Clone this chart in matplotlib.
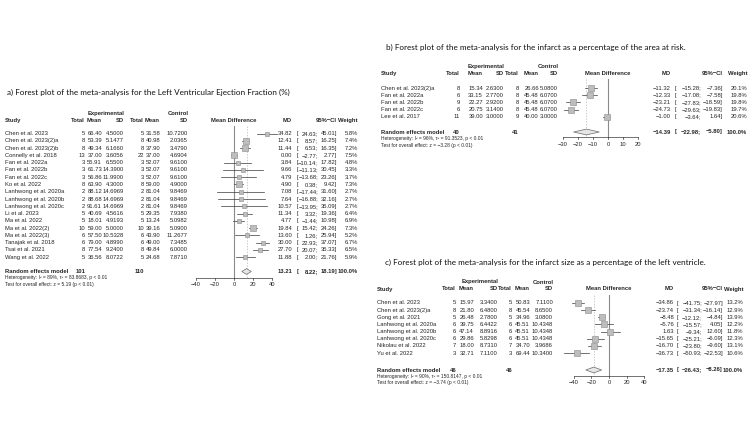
import matplotlib
matplotlib.use('Agg')
import matplotlib.pyplot as plt
from matplotlib.patches import Polygon

plt.rcParams['font.family'] = ['Liberation Sans', 'DejaVu Sans']

# ---------------- data: panel a (LVEF) ----------------
a_title = "a) Forest plot of the meta-analysis for the Left Ventricular Ejection Fraction (%)"
a_studies = ["Chen et al. 2023", "Chen et al. 2023(2)a", "Chen et al. 2023(2)b", "Connelly et al. 2018",
             "Fan et al. 2022a", "Fan et al. 2022b", "Fan et al. 2022c", "Ko et al. 2022",
             "Lanhwong et al. 2020a", "Lanhwong et al. 2020b", "Lanhwong et al. 2020c", "Li et al. 2023",
             "Ma et al. 2022", "Ma et al. 2022(2)", "Ma et al. 2022(3)", "Tanajak et al. 2018",
             "Tsai et al. 2021", "Wang et al. 2022"]
a_exp_n = [5, 8, 8, 13, 3, 3, 3, 8, 2, 2, 2, 5, 5, 10, 6, 6, 8, 5]
a_exp_mean = [66.40, 53.39, 49.34, 37.00, 55.91, 61.73, 56.86, 63.90, 88.12, 88.68, 91.61, 40.69,
              18.01, 59.00, 57.50, 79.00, 77.54, 36.56]
a_exp_sd = [4.5000, 5.1477, 6.1660, 3.6056, 6.5500, 14.3900, 11.9900, 4.3000, 14.6969, 14.6969, 14.6969,
            4.5616, 4.9193, 5.0000, 10.5328, 4.8990, 9.2400, 8.0722]
a_ctl_n = [5, 8, 8, 22, 3, 3, 3, 8, 2, 2, 2, 5, 5, 10, 6, 6, 8, 5]
a_ctl_mean = [31.58, 40.98, 37.90, 37.00, 52.07, 52.07, 52.07, 59.00, 81.04, 81.04, 81.04, 29.35,
              13.24, 39.16, 43.90, 49.00, 49.84, 24.68]
a_ctl_sd = [10.7200, 2.0365, 3.4790, 4.6904, 9.6100, 9.6100, 9.6100, 4.9000, 9.8469, 9.8469, 9.8469,
            7.9380, 5.0982, 5.0900, 11.2677, 7.3485, 6.0000, 7.8710]
a_md = [34.82, 12.41, 11.44, 0.00, 3.84, 9.66, 4.79, 4.90, 7.08, 7.64, 10.57, 11.34, 4.77, 19.84,
        13.60, 30.00, 27.70, 11.88]
a_lo = [24.63, 8.57, 6.53, -2.77, -10.14, -11.13, -13.68, 0.38, -17.44, -16.88, -13.95, 3.32, -1.44,
        15.42, 1.26, 22.93, 20.07, 2.00]
a_hi = [45.01, 16.25, 16.35, 2.77, 17.82, 30.45, 23.26, 9.42, 31.60, 32.16, 35.09, 19.36, 10.98,
        24.26, 25.94, 37.07, 35.33, 21.76]
a_w = [5.8, 7.4, 7.2, 7.5, 4.8, 3.3, 3.7, 7.3, 2.7, 2.7, 2.7, 6.4, 6.9, 7.3, 5.2, 6.7, 6.5, 5.9]
a_tot = [101, 110]
a_pool = [13.21, 8.22, 18.19]
a_het = "Heterogeneity: I² = 89%, τ² = 83.8683, p < 0.01"
a_test = "Test for overall effect: z = 5.19 (p < 0.01)"
a_ticks = [-40, -20, 0, 20, 40]

# ---------------- data: panel b (infarct / area at risk) ----------------
b_title = "b) Forest plot of the meta-analysis for the infarct as a percentage of the area at risk."
b_studies = ["Chen et al. 2023(2)a", "Fan et al. 2022a", "Fan et al. 2022b", "Fan et al. 2022c", "Lee et al. 2017"]
b_exp_n = [8, 6, 9, 6, 11]
b_exp_mean = [15.34, 33.15, 22.27, 20.75, 39.00]
b_exp_sd = [2.6300, 2.7700, 2.9200, 3.1400, 3.0000]
b_ctl_n = [8, 8, 8, 8, 9]
b_ctl_mean = [26.66, 45.48, 45.48, 45.48, 40.00]
b_ctl_sd = [5.0800, 6.0700, 6.0700, 6.0700, 3.0000]
b_md = [-11.32, -12.33, -23.21, -24.73, -1.00]
b_lo = [-15.28, -17.08, -27.83, -29.63, -3.64]
b_hi = [-7.36, -7.58, -18.59, -19.83, 1.64]
b_w = [20.1, 19.8, 19.8, 19.7, 20.6]
b_tot = [40, 41]
b_pool = [-14.39, -22.98, -5.80]
b_het = "Heterogeneity: I² = 96%, τ² = 91.3523, p < 0.01"
b_test = "Test for overall effect: z = −3.28 (p < 0.01)"
b_ticks = [-30, -20, -10, 0, 10, 20]

# ---------------- data: panel c (infarct size / LV) ----------------
c_title = "c) Forest plot of the meta-analysis for the infarct size as a percentage of the left ventricle."
c_studies = ["Chen et al. 2023", "Chen et al. 2023(2)a", "Gong et al. 2021", "Lanhwong et al. 2020a",
             "Lanhwong et al. 2020b", "Lanhwong et al. 2020c", "Nikolau et al. 2022", "Yu et al. 2022"]
c_exp_n = [5, 8, 5, 6, 6, 6, 7, 3]
c_exp_mean = [15.97, 21.80, 26.48, 39.75, 47.14, 29.86, 18.00, 32.71]
c_exp_sd = [3.3400, 6.4800, 2.7800, 6.4422, 8.8916, 5.8298, 8.7310, 7.1100]
c_ctl_n = [5, 8, 5, 6, 6, 6, 7, 3]
c_ctl_mean = [50.83, 45.54, 34.96, 45.51, 45.51, 45.51, 34.70, 69.44]
c_ctl_sd = [7.1100, 8.6500, 3.0800, 10.4348, 10.4348, 10.4348, 3.9686, 10.3400]
c_md = [-34.86, -23.74, -8.48, -5.76, 1.63, -15.65, -16.70, -36.73]
c_lo = [-41.75, -31.34, -12.12, -15.57, -9.34, -25.21, -23.80, -50.93]
c_hi = [-27.97, -16.14, -4.84, 4.05, 12.60, -6.09, -9.60, -22.53]
c_w = [13.2, 12.9, 13.9, 12.2, 11.8, 12.3, 13.1, 10.6]
c_tot = [46, 46]
c_pool = [-17.35, -26.43, -8.26]
c_het = "Heterogeneity: I² = 90%, τ² = 150.8147, p < 0.01"
c_test = "Test for overall effect: z = −3.74 (p < 0.01)"
c_ticks = [-40, -20, 0, 20, 40]

# ---------------- figure ----------------
W, H = 750, 443
fig = plt.figure(figsize=(7.5, 4.43), dpi=100)
fig.patch.set_facecolor('white')
base = fig.add_axes([0, 0, 1, 1])
base.set_xlim(0, W)
base.set_ylim(H, 0)
base.axis('off')

TXT = '#262626'
FS = 4.2
FS_SMALL = 3.5
TITLE_FS = 5.85


def fmt(v, d):
    s = f"{v:.{d}f}"
    return s.replace('-', '−')


def txt(x, y, s, ha='left', bold=False, fs=FS, **kw):
    base.text(x, y, s, ha=ha, va='center', fontsize=fs, color=TXT,
              fontweight='bold' if bold else 'normal', **kw)


def panel(title, title_xy, L, studies, en, em, esd, cn, cm, csd, md, lo, hi, w, tot, pool, het, test, ticks):
    base.text(title_xy[0], title_xy[1], title, ha='left', va='center', fontsize=TITLE_FS,
              color='#111111', family=['Lato', 'DejaVu Sans'])
    y1, y2 = L['hy1'], L['hy2']
    txt(L['esd'] + 1, y1, "Experimental", ha='right', bold=True)
    txt(L['csd'] + 1, y1, "Control", ha='right', bold=True)
    txt(L['study'], y2, "Study", bold=True)
    txt(L['en'], y2, "Total", ha='right', bold=True)
    txt(L['em'], y2, "Mean", ha='right', bold=True)
    txt(L['esd'], y2, "SD", ha='right', bold=True)
    txt(L['cn'], y2, "Total", ha='right', bold=True)
    txt(L['cm'], y2, "Mean", ha='right', bold=True)
    txt(L['csd'], y2, "SD", ha='right', bold=True)
    txt(L['zero_px'], y2, "Mean Difference", ha='center', bold=True)
    txt(L['md'], y2, "MD", ha='right', bold=True)
    txt(L['ci_r'], y2, "95%−CI", ha='right', bold=True)
    txt(L['wt'], y2, "Weight", ha='right', bold=True)

    n = len(studies)
    ys = [L['row0'] + i * L['dy'] for i in range(n)]
    for i in range(n):
        y = ys[i]
        txt(L['study'], y, studies[i])
        txt(L['en'], y, str(en[i]), ha='right')
        txt(L['em'], y, fmt(em[i], 2), ha='right')
        txt(L['esd'], y, fmt(esd[i], 4), ha='right')
        txt(L['cn'], y, str(cn[i]), ha='right')
        txt(L['cm'], y, fmt(cm[i], 2), ha='right')
        txt(L['csd'], y, fmt(csd[i], 4), ha='right')
        txt(L['md'], y, fmt(md[i], 2), ha='right')
        txt(L['ci_l'], y, "[")
        txt(L['ci_m'], y, fmt(lo[i], 2) + ";", ha='right')
        txt(L['ci_r'], y, fmt(hi[i], 2) + "]", ha='right')
        txt(L['wt'], y, f"{w[i]:.1f}%", ha='right')

    yr = L['rand']
    txt(L['study'], yr, "Random effects model", bold=True)
    txt(L['en'], yr, str(tot[0]), ha='right', bold=True)
    txt(L['cn'], yr, str(tot[1]), ha='right', bold=True)
    txt(L['md'], yr, fmt(pool[0], 2), ha='right', bold=True)
    txt(L['ci_l'], yr, "[", bold=True)
    txt(L['ci_m'], yr, fmt(pool[1], 2) + ";", ha='right', bold=True)
    txt(L['ci_r'], yr, fmt(pool[2], 2) + "]", ha='right', bold=True)
    txt(L['wt'], yr, "100.0%", ha='right', bold=True)
    txt(L['study'], yr + L['dh'], het, fs=FS_SMALL)
    txt(L['study'], yr + 2 * L['dh'], test, fs=FS_SMALL)

    # forest axes: x in MD units, y in pixel rows
    s = L['scale']
    xlo, xhi = ticks[0], ticks[-1]
    px0 = L['zero_px'] + xlo * s
    px1 = L['zero_px'] + xhi * s
    ytop, ybot = L['vtop'], L['axis_y'] + 12
    ax = fig.add_axes([px0 / W, 1 - ybot / H, (px1 - px0) / W, (ybot - ytop) / H])
    ax.set_xlim(xlo, xhi)
    ax.set_ylim(ybot, ytop)
    ax.axis('off')
    ax.patch.set_alpha(0)

    ax.plot([0, 0], [ytop, L['axis_y']], color='#8a8a8a', lw=0.8, clip_on=False, zorder=1)
    ax.plot([pool[0], pool[0]], [ytop, L['axis_y']], color='#b5b5b5', lw=0.5,
            ls=(0, (2, 2)), clip_on=False, zorder=1)
    wmax = max(w)
    for i in range(n):
        ax.plot([lo[i], hi[i]], [ys[i], ys[i]], color='#3a3a3a', lw=0.5, clip_on=False, zorder=3)
        ax.scatter([md[i]], [ys[i]], marker='s', s=L['sq'] * w[i] / wmax, facecolor='#bdbdbd',
                   edgecolor='#8a8a8a', linewidths=0.4, clip_on=False, zorder=4)
    hd = 2.9
    dia = Polygon([(pool[1], yr), (pool[0], yr - hd), (pool[2], yr), (pool[0], yr + hd)],
                  closed=True, facecolor='#e6e6e6', edgecolor='#6a6a6a', lw=0.5, clip_on=False, zorder=4)
    ax.add_patch(dia)
    ya = L['axis_y']
    ax.plot([xlo, xhi], [ya, ya], color='#3a3a3a', lw=0.5, clip_on=False)
    for t in ticks:
        ax.plot([t, t], [ya, ya + 2.2], color='#3a3a3a', lw=0.5, clip_on=False)
        ax.text(t, ya + 7, fmt(t, 0), ha='center', va='center', fontsize=FS, color=TXT, clip_on=False)


La = dict(hy1=113, hy2=120, study=5, en=85, em=102, esd=124, cn=144, cm=160, csd=188,
          zero_px=234, scale=0.95, md=292, ci_l=297, ci_m=318, ci_r=337, wt=358,
          row0=133.5, dy=7.28, rand=271.5, dh=6.5, vtop=126, axis_y=278, sq=14)
Lb = dict(hy1=66, hy2=73, study=381, en=460, em=483, esd=504, cn=519, cm=539, csd=558,
          zero_px=608, scale=1.5, md=671, ci_l=675, ci_m=701, ci_r=723, wt=747,
          row0=88, dy=7.2, rand=132, dh=6.8, vtop=79, axis_y=137, sq=18)
Lc = dict(hy1=282, hy2=289, study=377, en=456, em=474, esd=498, cn=512, cm=530, csd=553,
          zero_px=609, scale=0.88, md=674, ci_l=677, ci_m=702, ci_r=723, wt=743,
          row0=303, dy=7.15, rand=370, dh=6.4, vtop=295, axis_y=376, sq=18)

panel(a_title, (7, 92), La, a_studies, a_exp_n, a_exp_mean, a_exp_sd, a_ctl_n, a_ctl_mean, a_ctl_sd,
      a_md, a_lo, a_hi, a_w, a_tot, a_pool, a_het, a_test, a_ticks)
panel(b_title, (386, 47), Lb, b_studies, b_exp_n, b_exp_mean, b_exp_sd, b_ctl_n, b_ctl_mean, b_ctl_sd,
      b_md, b_lo, b_hi, b_w, b_tot, b_pool, b_het, b_test, b_ticks)
panel(c_title, (385, 262), Lc, c_studies, c_exp_n, c_exp_mean, c_exp_sd, c_ctl_n, c_ctl_mean, c_ctl_sd,
      c_md, c_lo, c_hi, c_w, c_tot, c_pool, c_het, c_test, c_ticks)

fig.savefig('out.png', dpi=100, facecolor='white')
